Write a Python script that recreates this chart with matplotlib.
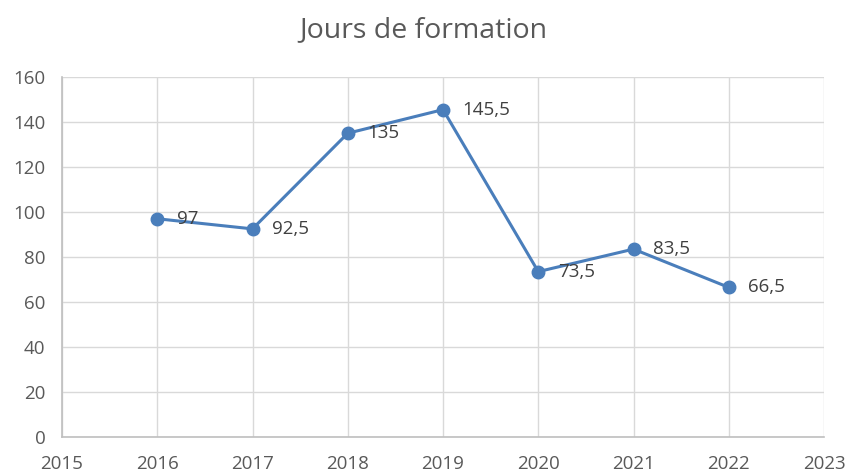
import matplotlib
matplotlib.use("Agg")
import matplotlib.pyplot as plt

years = [2016, 2017, 2018, 2019, 2020, 2021, 2022]
jours = [97, 92.5, 135, 145.5, 73.5, 83.5, 66.5]
labels = ["97", "92,5", "135", "145,5", "73,5", "83,5", "66,5"]

plt.rcParams['font.family'] = ['Open Sans', 'DejaVu Sans']

fig = plt.figure(figsize=(8.46, 4.74), dpi=100)
ax = fig.add_axes([62/846, 1-437/474, (824-62)/846, (437-77)/474])

grid_c = '#d9d9d9'
txt_c = '#595959'
blue = '#4a7ebb'

ax.plot(years, jours, color=blue, lw=2.2, marker='o', ms=9, zorder=3)
for x, y, s in zip(years, jours, labels):
    ax.annotate(s, (x, y), xytext=(14, 0), textcoords='offset points',
                va='center', ha='left', fontsize=13.5, color='#404040')

ax.set_xlim(2015, 2023)
ax.set_ylim(0, 160)
ax.set_xticks(range(2015, 2024))
ax.set_yticks(range(0, 161, 20))
ax.grid(True, color=grid_c, lw=1)
ax.set_axisbelow(True)
for side in ['top', 'right']:
    ax.spines[side].set_visible(False)
for side in ['left', 'bottom']:
    ax.spines[side].set_color('#bfbfbf')
    ax.spines[side].set_linewidth(1.2)
ax.tick_params(length=0, labelsize=13.5, colors=txt_c)
ax.tick_params(axis='y', pad=12)
ax.tick_params(axis='x', pad=13)

fig.text(0.5, 1-30/474, "Jours de formation", ha='center', va='center',
         fontsize=20.5, color=txt_c)

fig.savefig('out.png', dpi=100)
